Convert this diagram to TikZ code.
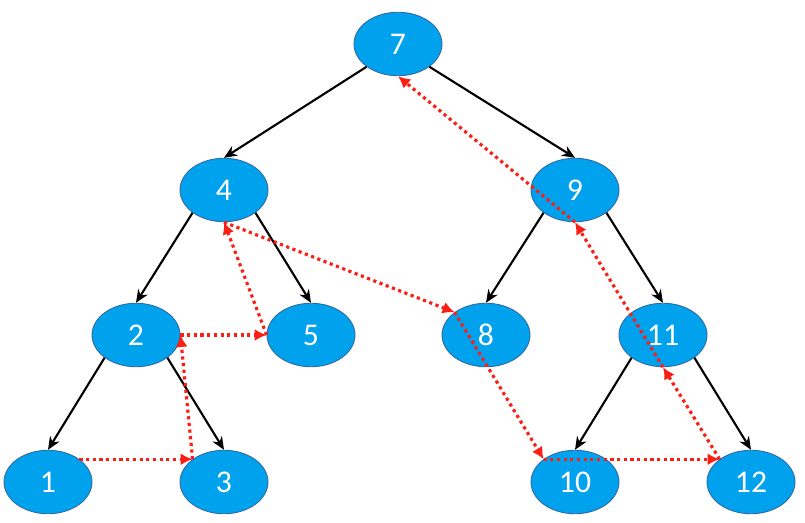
\documentclass[tikz,border=0pt]{standalone}
\usepackage{fontspec}
\setmainfont{Carlito}
\definecolor{nodeblue}{RGB}{0,162,238}
\definecolor{rimblue}{RGB}{50,105,160}
\definecolor{threadred}{RGB}{250,30,20}
\tikzset{
	vertex/.style={ellipse,draw=rimblue,fill=nodeblue,line width=0.5pt,minimum width=1.76cm,minimum height=1.27cm,inner sep=0pt,text=white,font=\fontsize{18}{21}\selectfont},
	branch/.style={-{Stealth[length=2.6mm,width=2.2mm]},line width=1.2pt,black},
	thread/.style={-{Latex[length=2.4mm,width=2.4mm]},threadred,dotted,line width=1.8pt}
}
\usetikzlibrary{shapes.geometric,arrows.meta}
\begin{document}
\begin{tikzpicture}[line join=round]
	\useasboundingbox (0,0) rectangle (16.1,10.44);
	\node[vertex] (n7) at (7.96,9.56) {7};
	\node[vertex] (n4) at (4.48,6.64) {4};
	\node[vertex] (n9) at (11.50,6.64) {9};
	\node[vertex] (n2) at (2.72,3.74) {2};
	\node[vertex] (n5) at (6.22,3.74) {5};
	\node[vertex] (n8) at (9.72,3.74) {8};
	\node[vertex] (n11) at (13.26,3.74) {11};
	\node[vertex] (n1) at (0.96,0.80) {1};
	\node[vertex] (n3) at (4.48,0.80) {3};
	\node[vertex] (n10) at (11.50,0.80) {10};
	\node[vertex] (n12) at (15.02,0.80) {12};
	\foreach \p/\l/\r in
	{n7/n4/n9,n4/n2/n5,n9/n8/n11,n2/n1/n3,n11/n10/n12}
	{\draw[branch] (\p.south west)--(\l.north);
	\draw[branch] (\p.south east)--(\r.north);}
	\draw[thread] (n1.north east)--(n3.north west);
	\draw[thread] (n3.north west)--(n2.east);
	\draw[thread] (n2.east)--(n5.west);
	\draw[thread] (n5.west)--(n4.south);
	\draw[thread] (n4.south)--(n8.north west);
	\draw[thread] (n8.north west)--(n10.north west);
	\draw[thread] (n10.north west)--(n12.north west);
	\draw[thread] (n12.north west)--(n11.south);
	\draw[thread] (n11.south)--(n9.south);
	\draw[thread] (n9.south)--(n7.south);
\end{tikzpicture}
\end{document}
